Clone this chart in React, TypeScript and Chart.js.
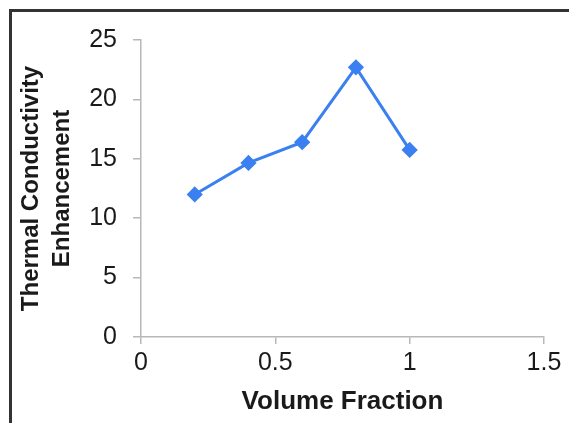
import React, { useEffect, useRef } from "react";
import { Chart, registerables } from "chart.js";

Chart.register(...registerables);

const volumeFraction = [0.2, 0.4, 0.6, 0.8, 1.0];
const enhancement = [12.0, 14.65, 16.4, 22.7, 15.75];
const xTicks = [0, 0.5, 1, 1.5];
const yTicks = [0, 5, 10, 15, 20, 25];

export default function App() {
  const ref = useRef<HTMLCanvasElement | null>(null);

  useEffect(() => {
    if (!ref.current) return;
    const axisColor = "#b8b8b8";
    const chart = new Chart(ref.current, {
      type: "scatter",
      data: {
        datasets: [
          {
            data: volumeFraction.map((x, i) => ({ x, y: enhancement[i] })),
            showLine: true,
            borderColor: "#3a80f0",
            backgroundColor: "#3a80f0",
            borderWidth: 3,
            pointStyle: "rectRot",
            pointRadius: 6,
            pointHoverRadius: 6,
          },
        ],
      },
      options: {
        animation: false,
        responsive: false,
        maintainAspectRatio: false,
        layout: { padding: { left: 0, top: 40, right: 25, bottom: 0 } },
        plugins: { legend: { display: false }, tooltip: { enabled: false } },
        scales: {
          x: {
            type: "linear",
            min: 0,
            max: 1.5,
            afterBuildTicks: (s: any) => {
              s.ticks = xTicks.map((v) => ({ value: v }));
            },
            afterFit: (s: any) => {
              s.height = 86;
            },
            grid: {
              drawOnChartArea: false,
              color: axisColor,
              tickLength: 7,
              lineWidth: 1.5,
            },
            border: { color: axisColor, width: 1.5 },
            ticks: {
              color: "#1a1a1a",
              font: { family: "Liberation Sans, Arial", size: 25 },
              padding: 4,
              maxRotation: 0,
              callback: (v: any) => String(v),
            },
            title: {
              display: true,
              text: "Volume Fraction",
              color: "#1a1a1a",
              font: { family: "Liberation Sans, Arial", size: 26, weight: "bold", lineHeight: 1.2 },
              padding: { top: 0, bottom: 6 },
            },
          },
          y: {
            type: "linear",
            min: 0,
            max: 25,
            afterBuildTicks: (s: any) => {
              s.ticks = yTicks.map((v) => ({ value: v }));
            },
            afterFit: (s: any) => {
              s.width = 141;
            },
            grid: {
              drawOnChartArea: false,
              color: axisColor,
              tickLength: 8,
              lineWidth: 1.5,
            },
            border: { color: axisColor, width: 1.5 },
            ticks: {
              color: "#1a1a1a",
              font: { family: "Liberation Sans, Arial", size: 25 },
              padding: 16,
            },
            title: {
              display: true,
              text: ["Thermal Conductivity", "Enhancement"],
              color: "#1a1a1a",
              font: { family: "Liberation Sans, Arial", size: 24, weight: "bold", lineHeight: 1.3 },
              padding: { top: 16, bottom: 0 },
            },
          },
        },
      },
    });
    return () => chart.destroy();
  }, []);

  return (
    <div
      style={{
        position: "fixed",
        left: 0,
        top: 0,
        width: 569,
        height: 423,
        background: "#fff",
        overflow: "hidden",
      }}
    >
      <canvas ref={ref} width={569} height={423} style={{ width: 569, height: 423, display: "block" }} />
      <div
        style={{
          position: "absolute",
          left: 9,
          top: 9,
          width: 557,
          height: 411,
          borderTop: "3px solid #333",
          borderLeft: "3px solid #333",
          pointerEvents: "none",
        }}
      />
    </div>
  );
}
